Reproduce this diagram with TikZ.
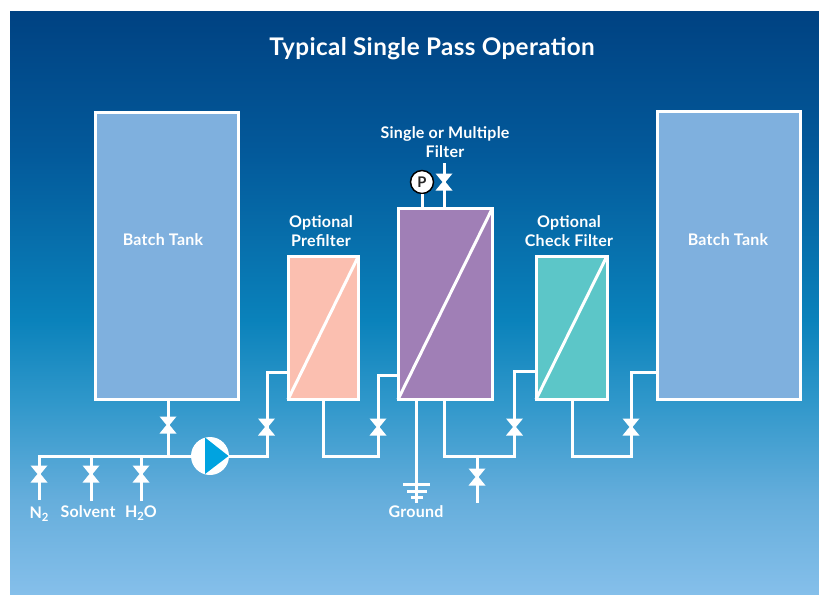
\documentclass[tikz,border=0pt]{standalone}
\usepackage{fontspec}
\setmainfont{Lato}[LetterSpace=1.5]
\usetikzlibrary{calc}
\definecolor{bgA}{HTML}{004282}
\definecolor{bgB}{HTML}{03599A}
\definecolor{bgC}{HTML}{0A82BB}
\definecolor{bgD}{HTML}{2F97CA}
\definecolor{bgE}{HTML}{66AEDC}
\definecolor{bgF}{HTML}{85BFEA}
\pgfdeclareverticalshading{bgshade}{100bp}{
 color(0bp)=(bgF);color(25bp)=(bgF);color(33bp)=(bgE);color(41.6bp)=(bgD);color(48.5bp)=(bgC);color(63bp)=(bgB);color(75bp)=(bgA);color(100bp)=(bgA)}
\definecolor{tankfill}{HTML}{7FB0DE}
\definecolor{prefill}{HTML}{FBBFB0}
\definecolor{mainfill}{HTML}{A07FB6}
\definecolor{checkfill}{HTML}{5CC6C8}
\definecolor{pumpblue}{HTML}{00A3E0}
\tikzset{
 x=0.75pt,y=-0.75pt,
 vessel/.style={draw=white,line width=3*0.75pt,minimum width=#1,inner sep=0pt,outer sep=0pt,anchor=north west},
 pipe/.style={draw=white,line width=3*0.75pt,line join=miter},
 diag/.style={draw=white,line width=3*0.75pt},
 lab/.style={text=white,font=\bfseries\fontsize{12pt}{14.25pt}\selectfont,align=center,inner sep=0pt},
 bowtie/.style={fill=white},
}
\newcommand{\valvev}[2]{\coordinate (#1) at (#2);
 \fill[bowtie] ($(#1)+(-8.5,-8.5)$) -- ($(#1)+(8.5,-8.5)$) -- ($(#1)+(1.5,0)$) -- ($(#1)+(8.5,8.5)$) -- ($(#1)+(-8.5,8.5)$) -- ($(#1)+(-1.5,0)$) -- cycle;}
\begin{document}
\begin{tikzpicture}
\useasboundingbox (0,0) rectangle (819,594);
\shade[shading=bgshade] (10,11) rectangle (819,594);
% vessels
\node[vessel=143*0.75pt,minimum height=287.5*0.75pt,fill=tankfill] (tankL) at (95.5,112) {};
\node[vessel=143.5*0.75pt,minimum height=287.5*0.75pt,fill=tankfill] (tankR) at (657,111.5) {};
\node[vessel=70.5*0.75pt,minimum height=143.5*0.75pt,fill=prefill] (pre) at (288,256) {};
\node[vessel=94.5*0.75pt,minimum height=191.5*0.75pt,fill=mainfill] (main) at (398,208) {};
\node[vessel=71*0.75pt,minimum height=143.5*0.75pt,fill=checkfill] (chk) at (536,256) {};
\draw[diag] (pre.south west) -- (pre.north east);
\draw[diag] (main.south west) -- (main.north east);
\draw[diag] (chk.south west) -- (chk.north east);
% pipe points
\coordinate (hL) at (39,456);
\coordinate (h2) at (91,456);
\coordinate (h3) at (141,456);
\coordinate (h4) at (168,456);
\coordinate (tankLout) at (168,400);
\coordinate (preIn) at (288,372);
\coordinate (preOut) at (323,400);
\coordinate (mainIn) at (398,375);
\coordinate (mainOut) at (444,400);
\coordinate (gndTop) at (416,400);
\coordinate (gndEnd) at (416,503);
\coordinate (chkIn) at (536,371);
\coordinate (chkOut) at (572,400);
\coordinate (tankRIn) at (657,372);
\coordinate (n2End) at (39,500);
\coordinate (solEnd) at (91,501);
\coordinate (h2oEnd) at (141,501);
\coordinate (drain) at (477,456);
\coordinate (drainEnd) at (477,503);
\coordinate (ventTop) at (444,163);
\coordinate (ventBase) at (444,208);
\coordinate (gaugeBase) at (422,208);
% pump and gauge
\node[circle,fill=white,minimum size=38*0.75pt,inner sep=0pt] (pump) at (210,456) {};
\node[circle,draw=black,fill=white,line width=1.1pt,minimum size=23*0.75pt,inner sep=0pt,font=\bfseries\fontsize{11pt}{11pt}\selectfont,text=black!85] (gauge) at (422,182) {P};
% pipes
\draw[pipe] (tankLout) -- (h4);
\draw[pipe] (n2End) -- (hL) -- (pump.west);
\draw[pipe] (solEnd) -- (h2);
\draw[pipe] (h2oEnd) -- (h3);
\draw[pipe] (pump.east) -| (267,372) -- (preIn);
\draw[pipe] (preOut) |- (378,456) |- (mainIn);
\draw[pipe] (gndTop) -- (gndEnd);
\draw[pipe] (mainOut) |- (514,456) |- (chkIn);
\draw[pipe] (drain) -- (drainEnd);
\draw[pipe] (chkOut) |- (631,456) |- (tankRIn);
\draw[pipe] (ventTop) -- (ventBase);
\draw[pipe] (gauge.south) -- (gaugeBase);
% ground bars
\draw[pipe] (403,484) -- (430,484);
\draw[pipe] (407,491) -- (427,491);
\draw[pipe] (411,497.5) -- (423,497.5);
% pump triangle
\fill[pumpblue] (205,437.5) -- (228.5,456) -- (205,474) -- cycle;
% valves
\valvev{v1}{168,425}
\valvev{v2}{39,474}
\valvev{v3}{91,474}
\valvev{v4}{141,474}
\valvev{v5}{266.5,427}
\valvev{v6}{378,427}
\valvev{v7}{514.5,427}
\valvev{v8}{477,477}
\valvev{v9}{631,427}
\valvev{v10}{444,182}
% labels
\node[lab,font=\bfseries\fontsize{18.2pt}{22pt}\selectfont] (title) at (432,48.5) {Typical Single Pass Operation};
\node[lab] (lblL) at (163,239.5) {Batch Tank};
\node[lab] (lblR) at (728,239.5) {Batch Tank};
\node[lab] (lblPre) at (321,231) {Optional\\Prefilter};
\node[lab] (lblMain) at (445,142) {Single or Multiple\\Filter};
\node[lab] (lblChk) at (569,231) {Optional\\Check Filter};
\node[lab] (lblN) at (39,514) {N\raisebox{-0.35ex}{\fontsize{8.5pt}{8pt}\selectfont 2}};
\node[lab] (lblS) at (88,511.5) {Solvent};
\node[lab] (lblH) at (141,513) {H\raisebox{-0.35ex}{\fontsize{8.5pt}{8pt}\selectfont 2}O};
\node[lab] (lblG) at (416,511.5) {Ground};
\end{tikzpicture}
\end{document}
